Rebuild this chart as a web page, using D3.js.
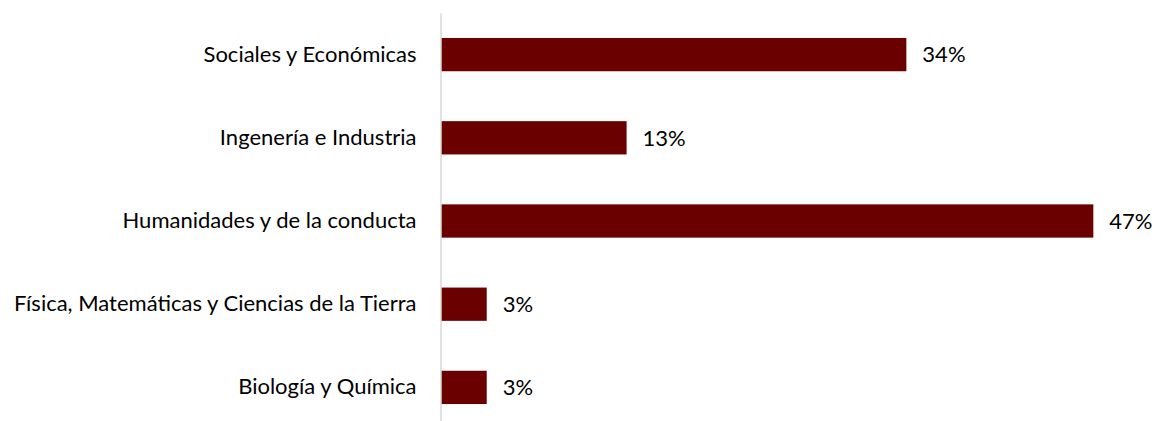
<!DOCTYPE html>
<html>
<head>
<meta charset="utf-8">
<script src="https://cdn.jsdelivr.net/npm/d3@7"></script>
<style>
  body { margin: 0; background: #fff; }
  text { font-family: "Lato", "Open Sans", sans-serif; fill: #000; }
</style>
</head>
<body>
<div id="chart"></div>
<script>
"use strict"

// categories top to bottom
let categories = [
    "Sociales y Económicas",
    "Ingenería e Industria",
    "Humanidades y de la conducta",
    "Física, Matemáticas y Ciencias de la Tierra",
    "Biología y Química"
];
// share of each area, in percent (labels are rounded)
let values = [33.6, 13.4, 47.1, 3.3, 3.3];

let width = 1155,
    height = 421;

let svg = d3.select("#chart")
    .append("svg")
    .attr("width", width)
    .attr("height", height);

let x = d3.scaleLinear()
    .domain([0, 50])
    .range([441, 441 + 50 * 13.85]);

let y = d3.scaleBand()
    .domain(categories)
    .range([13, 429])
    .paddingInner(0.6)
    .paddingOuter(0.3);

// bars
svg.selectAll(".bar")
    .data(values)
    .enter()
    .append("rect")
    .attr("class", "bar")
    .attr("x", x(0))
    .attr("y", (d, i) => y(categories[i]))
    .attr("width", d => x(d) - x(0))
    .attr("height", y.bandwidth())
    .attr("fill", "#6b0000");

// vertical axis line with category labels
let yAxis = svg.append("g")
    .attr("transform", "translate(" + (x(0) - 0.5) + ",0)")
    .call(d3.axisLeft(y).tickSize(0).tickPadding(24));

yAxis.select(".domain")
    .attr("stroke", "#d9d9d9")
    .attr("stroke-width", 1.5);

yAxis.selectAll("text")
    .style("font-size", "22px")
    .style("font-family", "Lato, 'Open Sans', sans-serif")
    .attr("fill", "#000");

// value labels
svg.selectAll(".value")
    .data(values)
    .enter()
    .append("text")
    .attr("class", "value")
    .attr("x", d => x(d) + 16)
    .attr("y", (d, i) => y(categories[i]) + y.bandwidth() / 2)
    .attr("dy", "0.35em")
    .style("font-size", "22px")
    .text(d => Math.round(d) + "%");
</script>
</body>
</html>
